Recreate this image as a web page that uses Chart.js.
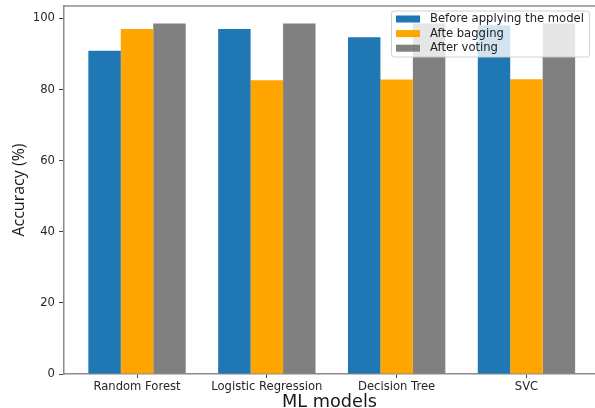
<!DOCTYPE html>
<html>
<head>
<meta charset="utf-8">
<script src="https://cdn.jsdelivr.net/npm/chart.js@4"></script>
<style>
  html, body { margin: 0; padding: 0; background: #ffffff; overflow: hidden; }
  #chart { display: block; }
</style>
</head>
<body>
<canvas id="chart" width="595" height="408"></canvas>
<script>
// Model names shown along the x axis
const categories = ['Random Forest', 'Logistic Regression', 'Decision Tree', 'SVC'];

// Accuracy (%) for each model
const beforeModel  = [90.9, 97.0, 94.7, 98.1];
const afterBagging = [97.0, 82.6, 82.8, 82.9];
const afterVoting  = [98.6, 98.6, 98.6, 98.6];

// Series names
const seriesLabels = ['Before applying the model', 'Afte bagging', 'After voting'];

// Y axis tick values
const yTicks = [0, 20, 40, 60, 80, 100];

const seriesColors = ['#1f77b4', '#ffa500', '#808080'];
const tickFont = { family: 'DejaVu Sans', size: 11.6 };
const spineColor = '#8c8c8c';

function toPoints(values) {
  return values.map((v, i) => ({ x: i, y: v }));
}

// Top spine of the axes frame
const frameTop = {
  id: 'frameTop',
  afterDatasetsDraw(chart) {
    const { ctx, chartArea } = chart;
    ctx.save();
    ctx.strokeStyle = spineColor;
    ctx.lineWidth = 1.5;
    ctx.beginPath();
    ctx.moveTo(chartArea.left, chartArea.top);
    ctx.lineTo(chartArea.right, chartArea.top);
    ctx.stroke();
    ctx.restore();
  }
};

// Legend box in the upper right corner, drawn over the bars
const overlayLegend = {
  id: 'overlayLegend',
  afterDraw(chart) {
    const { ctx, chartArea } = chart;
    const sets = chart.data.datasets;
    const boxW = 198, boxH = 46;
    const x0 = chartArea.right - boxW - 5.5;
    const y0 = chartArea.top + 5;
    ctx.save();
    ctx.beginPath();
    ctx.roundRect(x0, y0, boxW, boxH, 3);
    ctx.fillStyle = 'rgba(255,255,255,0.8)';
    ctx.fill();
    ctx.strokeStyle = 'rgba(204,204,204,0.9)';
    ctx.lineWidth = 1;
    ctx.stroke();
    ctx.font = '11.6px "DejaVu Sans"';
    ctx.textBaseline = 'middle';
    ctx.textAlign = 'left';
    sets.forEach((ds, i) => {
      const cy = y0 + 8 + i * 14.6;
      ctx.fillStyle = ds.backgroundColor;
      ctx.fillRect(x0 + 4.5, cy - 3.5, 24, 7);
      ctx.fillStyle = '#222222';
      ctx.fillText(ds.label, x0 + 38.5, cy);
    });
    ctx.restore();
  }
};

new Chart(document.getElementById('chart'), {
  type: 'bar',
  data: {
    datasets: [
      { label: seriesLabels[0], data: toPoints(beforeModel),  backgroundColor: seriesColors[0] },
      { label: seriesLabels[1], data: toPoints(afterBagging), backgroundColor: seriesColors[1] },
      { label: seriesLabels[2], data: toPoints(afterVoting),  backgroundColor: seriesColors[2] }
    ]
  },
  options: {
    responsive: false,
    animation: false,
    events: [],
    categoryPercentage: 0.75,
    barPercentage: 1.0,
    layout: { padding: { top: 6, left: 0, right: 0, bottom: 0 } },
    plugins: {
      legend: { display: false },
      tooltip: { enabled: false }
    },
    scales: {
      x: {
        type: 'linear',
        min: -0.5625,
        max: 3.528,
        offset: false,
        grid: { display: true, offset: false, drawOnChartArea: false, drawTicks: true, tickLength: 4, color: '#444444', lineWidth: 1 },
        border: { display: true, color: spineColor, width: 1.5 },
        afterBuildTicks: (scale) => { scale.ticks = categories.map((_, i) => ({ value: i })); },
        ticks: {
          font: tickFont,
          color: '#262626',
          padding: 2,
          maxRotation: 0,
          autoSkip: false,
          callback: (value) => categories[value]
        },
        title: {
          display: true,
          text: 'ML models',
          color: '#1a1a1a',
          font: { family: 'DejaVu Sans', size: 17.7, lineHeight: 0.8 },
          padding: { top: 0, bottom: -1 }
        },
        afterFit: (scale) => {
          scale.height = 34;
          scale.paddingLeft = 0;
          scale.paddingRight = 0;
        }
      },
      y: {
        min: 0,
        max: 103.5,
        grid: { display: true, drawOnChartArea: false, drawTicks: true, tickLength: 5, color: '#444444', lineWidth: 1 },
        border: { display: true, color: spineColor, width: 1.5 },
        afterBuildTicks: (scale) => { scale.ticks = yTicks.map(v => ({ value: v })); },
        ticks: {
          font: tickFont,
          color: '#262626',
          padding: 4
        },
        title: {
          display: true,
          text: 'Accuracy (%)',
          color: '#1a1a1a',
          font: { family: 'Open Sans', size: 16, lineHeight: 1.2 },
          padding: { top: 10, bottom: 0 }
        },
        afterFit: (scale) => {
          scale.width = 64;
          scale.paddingTop = 0;
          scale.paddingBottom = 0;
        }
      }
    }
  },
  plugins: [frameTop, overlayLegend]
});
</script>
</body>
</html>
